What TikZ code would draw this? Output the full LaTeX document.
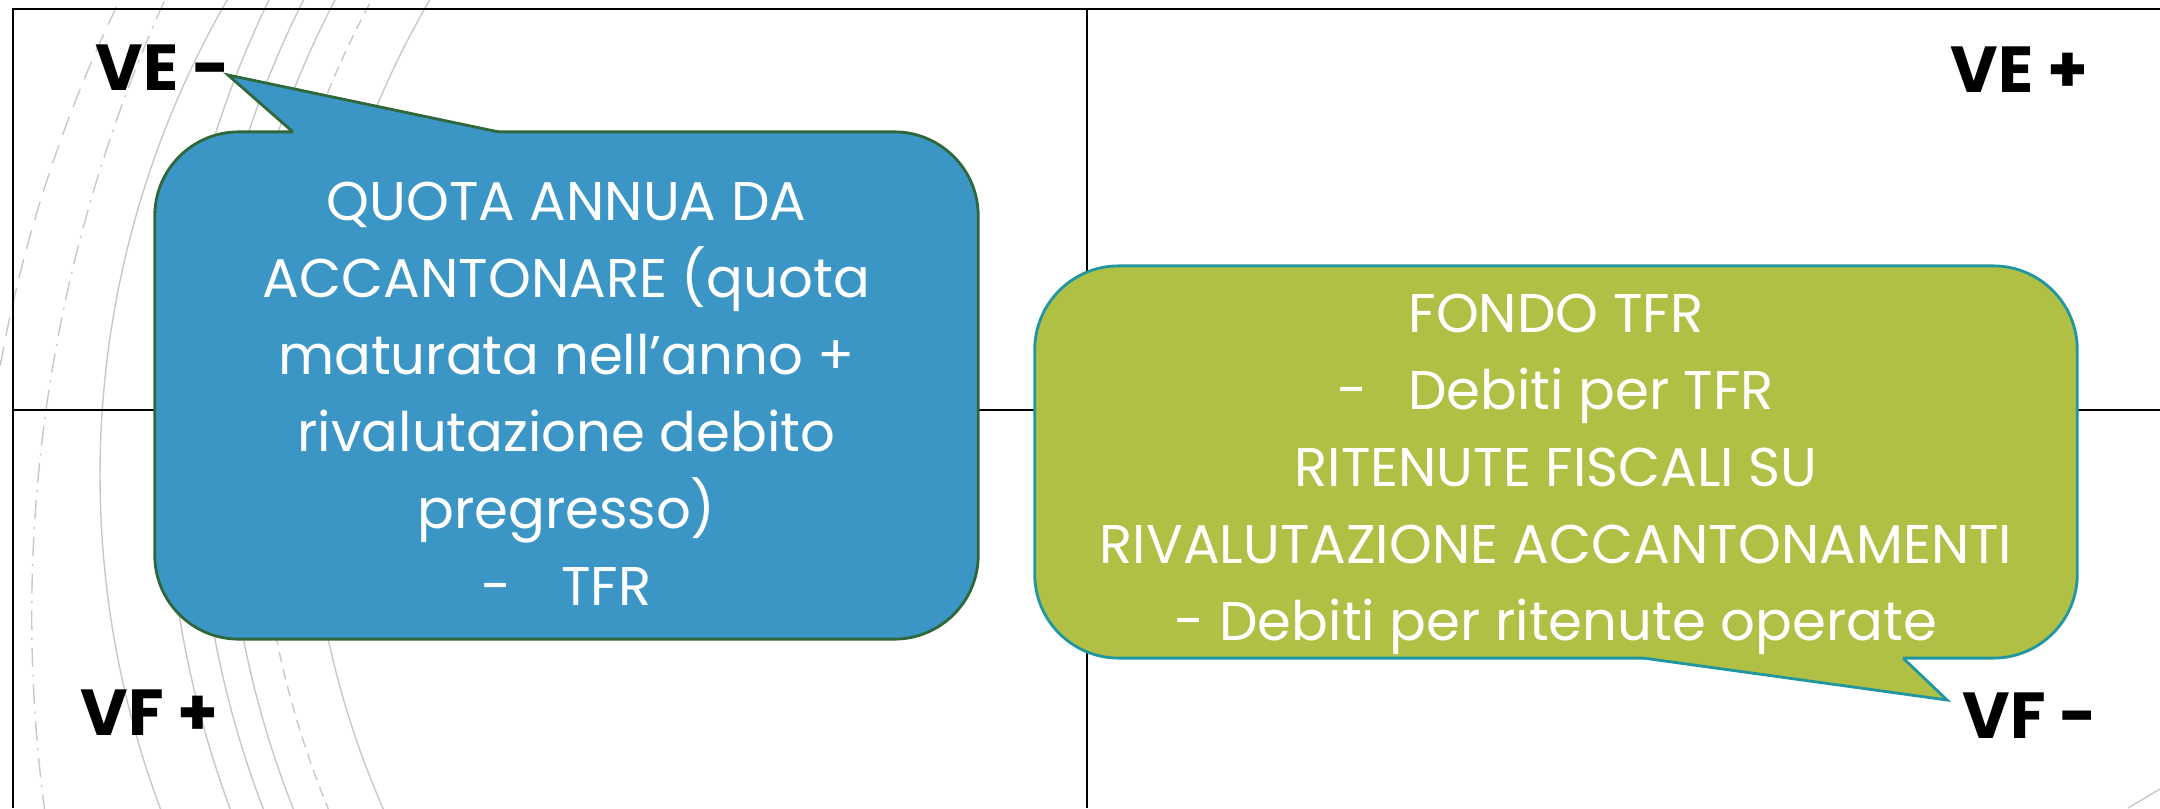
\documentclass[tikz,border=0pt]{standalone}
\usepackage{fontspec}
\setmainfont{Poppins}
\usetikzlibrary{positioning}
\definecolor{quotafill}{RGB}{60,150,197}
\definecolor{quotaborder}{RGB}{46,104,58}
\definecolor{fondofill}{RGB}{176,192,68}
\definecolor{fondoborder}{RGB}{32,150,160}
\definecolor{arcgray}{RGB}{200,200,200}

\begin{document}
\begin{tikzpicture}[x=0.01cm, y=0.01cm,
    quadline/.style={line width=0.6pt, black},
    arcline/.style={line width=0.4pt, arcgray},
    arcdash/.style={arcline, dash pattern=on 3pt off 2pt},
    arcdashlong/.style={arcline, dash pattern=on 5.5pt off 3pt},
    arcdashdot/.style={arcline, dash pattern=on 5.5pt off 2.2pt on 0.6pt off 2.2pt},
    callout/.style={rectangle, rounded corners=0.84cm, line width=0.8pt, inner sep=0pt},
    calltext/.style={align=center, text=white, inner sep=0pt, font=\fontsize{15.5}{21.9}\selectfont},
    quotabox/.style={callout, draw=quotaborder, fill=quotafill, minimum width=8.23cm, minimum height=5.07cm},
    fondobox/.style={callout, draw=fondoborder, fill=fondofill, minimum width=10.42cm, minimum height=3.92cm},
    quadlabel/.style={anchor=base west, inner sep=0pt, font=\fontsize{18.5}{18.5}\selectfont\bfseries}
]
\useasboundingbox (0,0) rectangle (2160,808);

\begin{scope}
    \clip (0,0) rectangle (2160,808);
    \draw[arcline] (1050,333) ++(140:950) arc[start angle=140, end angle=215, radius=950];
    \foreach \r/\s in {1034/arcline, 1003/arcline, 975/arcline, 942.6/arcdash, 892/arcline}
        \draw[\s] (1200,358) ++(140:\r) arc[start angle=140, end angle=220, radius=\r];
    \draw[arcdashdot] (1516,194) ++(120:1484) arc[start angle=120, end angle=240, radius=1484];
    \draw[arcdashlong] (1376.6,194) ++(120:1398.6) arc[start angle=120, end angle=240, radius=1398.6];
    \draw[arcline] (2128,0) -- (2160,19);
\end{scope}

\draw[quadline] (2160,799) -- (13,799) -- (13,0);
\draw[quadline] (13,398) -- (2160,398);
\draw[quadline] (1087,799) -- (1087,0);

\node[quotabox] (quota) at (566.5,422.5) {};
\coordinate (quotaleft) at (293,676);
\coordinate (quotaright) at (499,676);
\coordinate (quotatip) at (228,733);
\fill[quotafill] ([yshift=-0.04cm]quotaleft) -- (quotaleft) -- (quotatip) -- (quotaright) -- ([yshift=-0.04cm]quotaright) -- cycle;
\draw[line width=0.8pt, quotaborder] (quotaleft) -- (quotatip) -- (quotaright);
\node[calltext] (quotatext) at ([yshift=-0.08cm]quota.center) {QUOTA ANNUA DA\\ACCANTONARE (quota\\maturata nell'anno +\\rivalutazione debito\\pregresso)\\-\hspace{0.5cm}TFR};

\node[fondobox] (fondo) at (1556,346) {};
\coordinate (fondoleft) at (1643,150);
\coordinate (fondoright) at (1903,150);
\coordinate (fondotip) at (1947,108);
\fill[fondofill] ([yshift=0.04cm]fondoleft) -- (fondoleft) -- (fondotip) -- (fondoright) -- ([yshift=0.04cm]fondoright) -- cycle;
\draw[line width=0.8pt, fondoborder] (fondoleft) -- (fondotip) -- (fondoright);
\node[calltext] (fondotext) at ([yshift=-0.12cm]fondo.center) {FONDO TFR\\-\hspace{0.4cm}Debiti per TFR\\RITENUTE FISCALI SU\\RIVALUTAZIONE ACCANTONAMENTI\\- Debiti per ritenute operate};

\node[quadlabel] (vemeno) at (95,718) {VE -};
\node[quadlabel] (vepiu) at (1950,716) {VE +};
\node[quadlabel] (vfpiu) at (80,73) {VF +};
\node[quadlabel] (vfmeno) at (1962,70) {VF -};
\end{tikzpicture}
\end{document}
